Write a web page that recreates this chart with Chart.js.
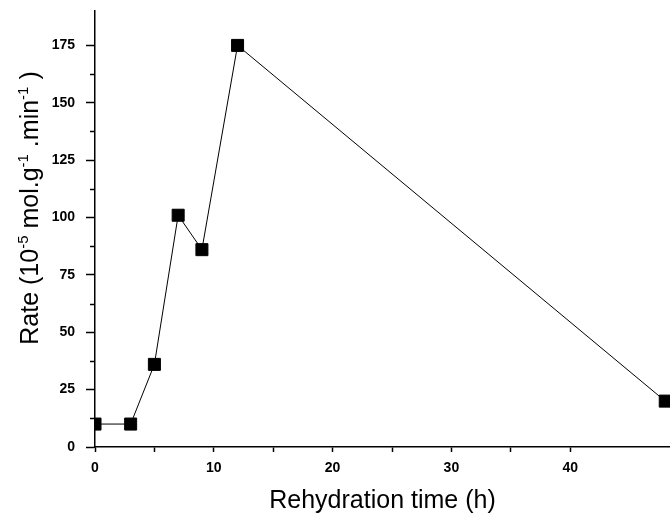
<!DOCTYPE html>
<html>
<head>
<meta charset="utf-8">
<script src="https://cdn.jsdelivr.net/npm/chart.js@4.4.1/dist/chart.umd.min.js"></script>
<style>
  html, body { margin: 0; padding: 0; background: #fff; }
  #wrap { width: 670px; height: 516px; }
</style>
</head>
<body>
<div id="wrap"><canvas id="chart"></canvas></div>
<script>
// rehydration time (h) and rate (10^-5 mol.g^-1.min^-1)
const hours = [0, 3, 5, 7, 9, 12, 48];
const rates = [10, 10, 36, 101, 86, 175, 20];

const xTitle = 'Rehydration time (h)';
// y title pieces, [text, superscript?]
const yTitle = [['Rate (10', false], ['-5', true], [' mol.g', false], ['-1', true], [' .min', false], ['-1', true], [' )', false]];

const fontFam = '"Liberation Sans", Arial, sans-serif';

// minor ticks on the y axis are shorter, draw them here
const minorTicks = {
    id: 'minorTicks',
    afterDraw(chart) {
        const ctx = chart.ctx;
        const y = chart.scales.y;
        ctx.save();
        ctx.strokeStyle = '#000';
        ctx.lineWidth = 1.5;
        y.ticks.forEach(t => {
            if (t.value % 25 !== 0) {
                const py = Math.round(y.getPixelForValue(t.value)) + 0.5;
                ctx.beginPath();
                ctx.moveTo(y.right - 5, py);
                ctx.lineTo(y.right, py);
                ctx.stroke();
            }
        });
        ctx.restore();
    }
};

// rotated y title with superscripts
const yTitlePlugin = {
    id: 'yTitle',
    afterDraw(chart) {
        const ctx = chart.ctx;
        const fs = 25, ss = 15;
        ctx.save();
        let total = 0;
        yTitle.forEach(p => {
            ctx.font = (p[1] ? ss : fs) + 'px ' + fontFam;
            total += ctx.measureText(p[0]).width;
        });
        const cy = 208;
        ctx.translate(38, cy + total / 2);
        ctx.rotate(-Math.PI / 2);
        ctx.fillStyle = '#000';
        ctx.textBaseline = 'alphabetic';
        let x = 0;
        yTitle.forEach(p => {
            ctx.font = (p[1] ? ss : fs) + 'px ' + fontFam;
            ctx.fillText(p[0], x, p[1] ? -10 : 0);
            x += ctx.measureText(p[0]).width;
        });
        ctx.restore();
    }
};

function noPad(s) {
    s.paddingTop = 0;
    s.paddingBottom = 0;
    s.paddingLeft = 0;
    s.paddingRight = 0;
}

const config = {
    type: 'line',
    data: {
        labels: hours,
        datasets: [{
            data: hours.map((h, i) => ({ x: h, y: rates[i] })),
            borderColor: '#000',
            borderWidth: 1,
            backgroundColor: '#000',
            pointStyle: 'rect',
            pointRadius: 8.5,
            pointBorderWidth: 1,
            pointBorderColor: '#000',
            pointBackgroundColor: '#000',
            tension: 0
        }]
    },
    options: {
        responsive: true,
        maintainAspectRatio: false,
        animation: false,
        layout: { autoPadding: false, padding: { top: 11, right: 0, left: 0, bottom: 0 } },
        plugins: {
            legend: { display: false },
            tooltip: { enabled: false }
        },
        scales: {
            x: {
                type: 'linear',
                min: 0,
                max: 48.4,
                afterFit: s => { s.height = 69; noPad(s); },
                afterBuildTicks: s => { s.ticks = s.ticks.filter(t => t.value % 5 === 0); },
                border: { display: true, color: '#000', width: 1.5 },
                grid: { drawOnChartArea: false, drawTicks: true, tickLength: 5, tickColor: '#000', tickWidth: 1.5 },
                ticks: {
                    stepSize: 5,
                    autoSkip: false,
                    maxRotation: 0,
                    padding: 8,
                    color: '#000',
                    font: { family: fontFam, size: 14, weight: 'bold' },
                    callback: v => (v % 10 === 0 ? v : '')
                },
                title: {
                    display: true,
                    text: xTitle,
                    color: '#000',
                    font: { family: fontFam, size: 25 },
                    padding: { top: 0, bottom: 0 }
                }
            },
            y: {
                min: 0,
                max: 190,
                afterFit: s => { s.width = 95; noPad(s); },
                afterBuildTicks: s => { s.ticks = s.ticks.filter(t => t.value % 12.5 === 0); },
                border: { display: true, color: '#000', width: 1.5 },
                grid: {
                    drawOnChartArea: false,
                    drawTicks: true,
                    tickLength: 9,
                    tickWidth: 1.5,
                    tickColor: c => (c.tick && c.tick.value % 25 === 0 ? '#000' : 'rgba(0,0,0,0)')
                },
                ticks: {
                    stepSize: 12.5,
                    autoSkip: false,
                    padding: 11,
                    color: '#000',
                    font: { family: fontFam, size: 14, weight: 'bold' },
                    callback: v => (v % 25 === 0 ? v : '')
                }
            }
        }
    },
    plugins: [minorTicks, yTitlePlugin]
};

var ctx = document.getElementById('chart').getContext('2d');
var chart = new Chart(ctx, config);
</script>
</body>
</html>
